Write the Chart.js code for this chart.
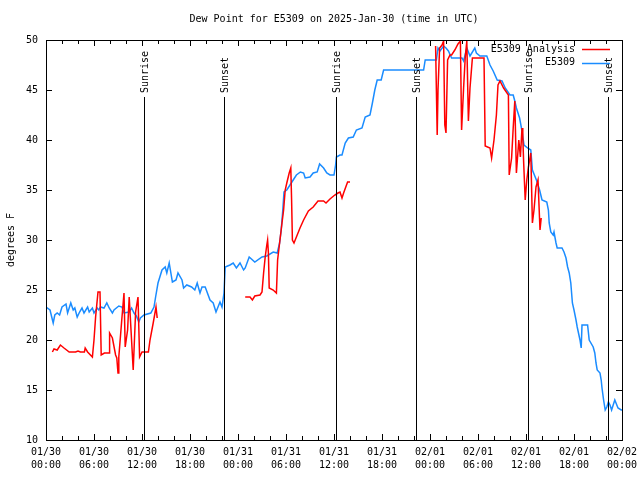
<!DOCTYPE html>
<html>
<head>
<meta charset="utf-8">
<script src="https://cdn.jsdelivr.net/npm/chart.js@4/dist/chart.umd.min.js"></script>
<style>
html,body{margin:0;padding:0;background:#fff;}
#wrap{width:640px;height:480px;}
</style>
</head>
<body>
<div id="wrap"><canvas id="c" width="640" height="480"></canvas></div>
<script>
// ---- data (x = hours since 2025-01-30 00:00 UTC) ----
const chartTitle = 'Dew Point for E5309 on 2025-Jan-30 (time in UTC)';
const yAxisTitle = 'degrees F';
const tickDates = ['01/30','01/30','01/30','01/30','01/31','01/31','01/31','01/31','02/01','02/01','02/01','02/01','02/02'];
const tickTimes = ['00:00','06:00','12:00','18:00','00:00','06:00','12:00','18:00','00:00','06:00','12:00','18:00','00:00'];

const obsLabel = 'E5309';
const obsHours = [0,0.5,0.9,1.1,1.4,1.7,2.0,2.5,2.7,3.1,3.4,3.6,3.9,4.2,4.5,4.75,5.2,5.4,5.8,6.0,6.4,6.6,6.8,7.25,7.6,7.9,8.3,8.5,9.1,9.5,9.75,10.4,10.7,11.0,11.3,11.6,11.8,12.25,13.1,13.5,13.7,14.0,14.5,14.9,15.1,15.4,15.8,16.25,16.5,17.0,17.2,17.6,18.2,18.6,18.9,19.25,19.5,19.9,20.5,20.9,21.25,21.75,22.0,22.25,22.4,23.0,23.4,23.8,24.25,24.7,24.9,25.4,26.1,27.0,27.6,28.4,28.9,29.2,29.4,29.6,29.75,30.1,30.5,30.9,31.3,31.8,32.2,32.4,33.0,33.4,33.9,34.2,34.7,35.1,35.5,36.0,36.2,36.3,36.75,37.0,37.4,37.8,38.4,38.8,39.5,39.9,40.5,40.8,41.1,41.4,41.9,42.2,47.2,47.4,48.8,49.0,49.25,49.7,50.0,50.3,50.7,52.0,52.2,52.6,53.0,53.6,53.8,54.25,55.1,55.5,55.9,56.4,57.0,57.4,58.0,58.4,58.6,58.8,59.2,59.5,59.75,60.2,60.6,60.8,61.3,61.7,62.0,62.6,62.8,62.9,63.1,63.4,63.5,63.75,63.9,64.5,64.75,65.0,65.2,65.4,65.6,65.7,65.8,66.0,66.25,66.4,66.75,66.9,67.0,67.7,67.9,68.4,68.6,68.75,68.9,69.25,69.4,69.5,69.7,69.9,70.1,70.3,70.5,70.7,71.1,71.5,71.9,72.0];
const obsDew = [23.3,23.0,21.7,22.5,22.7,22.5,23.3,23.6,22.7,23.7,23.0,23.2,22.3,22.8,23.2,22.7,23.3,22.8,23.2,22.7,23.2,23.0,23.3,23.2,23.7,23.2,22.7,23.0,23.4,23.3,22.7,22.8,23.2,22.7,22.4,21.8,22.2,22.5,22.7,23.3,24.3,25.7,27.0,27.3,26.7,27.7,25.8,26.0,26.7,26.0,25.2,25.5,25.3,25.0,25.7,24.7,25.3,25.3,24.0,23.7,22.8,23.8,23.3,24.7,27.3,27.5,27.7,27.2,27.7,27.0,27.2,28.3,27.8,28.3,28.4,28.8,28.7,29.7,31.0,33.0,34.8,35.0,35.5,36.0,36.5,36.8,36.7,36.2,36.3,36.7,36.8,37.6,37.2,36.7,36.5,36.5,37.5,38.3,38.5,38.5,39.7,40.2,40.3,41.0,41.2,42.3,42.5,43.7,45.0,46.0,46.0,47.0,47.0,48.0,48.0,49.2,48.9,49.4,49.2,48.9,48.2,48.2,47.9,49.2,48.4,49.2,48.7,48.4,48.4,47.5,46.9,46.0,45.9,45.2,44.5,44.5,43.9,43.2,42.2,40.9,39.5,39.2,39.0,37.0,36.0,35.0,34.0,33.8,33.0,31.7,30.8,30.5,30.8,29.7,29.2,29.2,28.8,28.2,27.3,26.7,25.7,24.7,23.7,23.0,22.0,21.3,20.0,19.2,21.5,21.5,20.0,19.3,18.7,17.7,17.0,16.7,16.0,15.2,14.0,13.0,13.3,13.8,13.5,13.0,14.0,13.2,13.0,13.0];

const anaLabel = 'E5309 Analysis';
const anaHours = [0.8,1.0,1.4,1.8,2.25,2.9,3.7,4.0,4.3,4.8,4.9,5.2,5.8,6.0,6.2,6.5,6.75,6.9,7.3,7.9,7.95,8.3,8.7,8.85,9.0,9.1,9.5,9.75,9.9,10.2,10.4,10.9,11.2,11.5,11.7,12.0,12.8,13.0,13.4,13.75,13.9,
  19.0,
  24.9,25.5,25.8,26.1,26.75,27.0,27.2,27.4,27.6,27.7,27.8,27.9,28.4,28.8,28.95,29.2,29.5,29.7,29.9,30.1,30.4,30.6,30.7,30.8,31.0,31.3,31.75,32.2,32.8,33.4,34.0,34.7,35.0,35.5,36.1,36.5,36.75,37.0,37.2,37.7,38.0,
  43.0,
  48.7,48.9,49.0,49.2,49.5,49.7,49.85,50.0,50.2,50.5,50.7,51.1,51.5,51.8,51.95,52.2,52.4,52.6,52.8,53.0,53.3,54.0,54.75,54.9,55.5,55.7,56.0,56.3,56.5,56.75,57.2,57.8,57.9,58.2,58.4,58.6,58.8,59.1,59.3,59.5,59.6,59.7,59.9,60.1,60.3,60.6,60.8,61.0,61.25,61.5,61.75,61.9];
const anaDew = [18.8,19.1,19.0,19.5,19.2,18.8,18.8,18.9,18.8,18.8,19.2,18.8,18.3,20.0,22.3,24.8,24.8,18.5,18.7,18.7,20.7,20.2,18.5,18.2,16.7,18.3,22.3,24.7,19.3,21.0,24.3,17.0,22.8,24.3,18.3,18.8,18.8,20.0,21.7,23.3,22.2,
  null,
  24.3,24.3,24.0,24.4,24.5,24.8,26.7,28.3,29.5,30.0,28.7,25.2,25.0,24.7,28.0,29.7,31.7,33.0,35.0,35.7,36.7,37.2,34.0,30.0,29.7,30.3,31.2,32.0,32.9,33.3,33.9,33.9,33.7,34.1,34.5,34.7,34.8,34.2,34.7,35.8,35.8,
  null,
  49.4,40.5,45.0,49.2,49.5,49.9,41.5,40.7,48.0,48.5,48.5,49.0,49.6,49.9,41.0,45.2,48.2,49.9,41.9,45.2,48.2,48.2,48.2,39.4,39.2,38.2,40.0,42.5,45.5,45.9,45.2,44.5,36.5,38.2,41.2,43.9,36.7,40.0,38.3,41.2,40.3,37.9,34.0,36.0,37.3,38.7,31.7,33.0,35.3,36.0,31.0,32.2];

const sunHours = [12.25,22.25,36.25,46.25,60.25,70.25];
const sunLabels = ['Sunrise','Sunset','Sunrise','Sunset','Sunrise','Sunset'];

// ---- styles ----
const FONT = '10px "DejaVu Sans Mono", "Liberation Mono", monospace';
const RED = '#ff0000';
const BLUE = '#1a8cff';

function pts(xs, ys){ return xs.map((x,i)=>({x:x, y:ys[i]})); }

const decor = {
  id:'decor',
  afterDraw(chart){
    const ctx = chart.ctx, a = chart.chartArea;
    const xs = chart.scales.x, ys = chart.scales.y;
    ctx.save();
    ctx.fillStyle = '#000'; ctx.strokeStyle = '#000'; ctx.lineWidth = 1;
    ctx.font = FONT;
    // title
    ctx.textAlign = 'center'; ctx.textBaseline = 'middle';
    ctx.fillText(chartTitle, (a.left + a.right)/2, 19);
    // y title
    ctx.save();
    ctx.translate(11, (a.top + a.bottom)/2);
    ctx.rotate(-Math.PI/2);
    ctx.fillText(yAxisTitle, 0, 0);
    ctx.restore();
    // sunrise / sunset
    sunHours.forEach((h,i)=>{
      const x = Math.round(xs.getPixelForValue(h)) + 0.5;
      ctx.beginPath(); ctx.moveTo(x, 97); ctx.lineTo(x, a.bottom); ctx.stroke();
      ctx.save();
      ctx.translate(x + 1, 93);
      ctx.rotate(-Math.PI/2);
      ctx.textAlign = 'left'; ctx.textBaseline = 'middle';
      ctx.fillText(sunLabels[i], 0, 0);
      ctx.restore();
    });
    // ticks (inside, mirrored)
    ctx.beginPath();
    for (let h = xs.min; h <= xs.max; h += 2) {
      const x = Math.round(xs.getPixelForValue(h)) + 0.5;
      const len = (h % 6 === 0) ? 6 : 4;
      ctx.moveTo(x, a.bottom); ctx.lineTo(x, a.bottom - len);
      ctx.moveTo(x, a.top); ctx.lineTo(x, a.top + len);
    }
    ys.ticks.forEach(t=>{
      const y = Math.round(ys.getPixelForValue(t.value)) + 0.5;
      ctx.moveTo(a.left, y); ctx.lineTo(a.left + 6, y);
      ctx.moveTo(a.right, y); ctx.lineTo(a.right - 6, y);
    });
    ctx.stroke();
    // border
    ctx.strokeRect(Math.round(a.left)+0.5, Math.round(a.top)+0.5, Math.round(a.right-a.left), Math.round(a.bottom-a.top));
    // legend
    const dsets = chart.data.datasets;
    ctx.textAlign = 'right'; ctx.textBaseline = 'middle';
    dsets.forEach((d,i)=>{
      const y = 49 + i*13.5;
      ctx.fillStyle = '#000';
      ctx.fillText(d.label, 575, y);
      ctx.strokeStyle = d.borderColor; ctx.lineWidth = 1.5;
      ctx.beginPath(); ctx.moveTo(582, Math.round(y)+0.5); ctx.lineTo(610, Math.round(y)+0.5); ctx.stroke();
    });
    ctx.restore();
  }
};

new Chart(document.getElementById('c'), {
  type:'line',
  data:{
    datasets:[
      {label:anaLabel, data:pts(anaHours, anaDew), borderColor:RED, borderWidth:1.5, pointRadius:0, tension:0, spanGaps:false, order:1},
      {label:obsLabel, data:pts(obsHours, obsDew), borderColor:BLUE, borderWidth:1.5, pointRadius:0, tension:0, order:2}
    ]
  },
  options:{
    responsive:false, animation:false,
    layout:{padding:{top:40, right:18, left:0, bottom:0}},
    plugins:{legend:{display:false}, title:{display:false}, tooltip:{enabled:false}},
    scales:{
      x:{type:'linear', min:0, max:72,
        grid:{display:false, drawTicks:false}, border:{display:false},
        afterFit(s){ s.height = 40; s.paddingLeft = 0; s.paddingRight = 0; },
        ticks:{stepSize:6, autoSkip:false, maxRotation:0, padding:6, color:'#000',
          font:{family:'"DejaVu Sans Mono", "Liberation Mono", monospace', size:10, lineHeight:1.3},
          callback:(v)=>[tickDates[Math.round(v/6)], tickTimes[Math.round(v/6)]]}
      },
      y:{min:10, max:50,
        grid:{display:false, drawTicks:false}, border:{display:false},
        afterFit(s){ s.width = 46; s.paddingTop = 0; s.paddingBottom = 0; },
        ticks:{stepSize:5, padding:8, color:'#000',
          font:{family:'"DejaVu Sans Mono", "Liberation Mono", monospace', size:10}}
      }
    }
  },
  plugins:[decor]
});
</script>
</body>
</html>
